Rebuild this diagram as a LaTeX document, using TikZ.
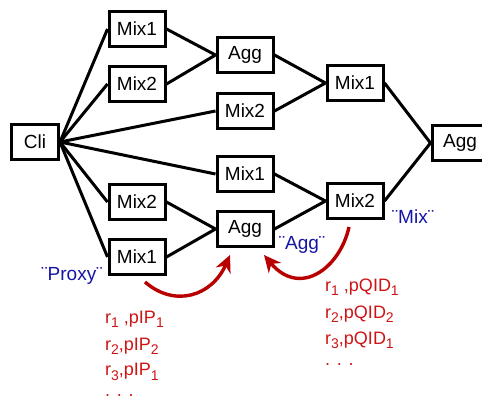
\documentclass[tikz,border=0pt]{standalone}
\usepackage{fontspec}
\setmainfont{Liberation Sans}
\usetikzlibrary{arrows.meta}
\definecolor{lblblue}{RGB}{20,20,165}
\definecolor{txtred}{RGB}{205,20,20}
\definecolor{arrred}{RGB}{185,0,0}
\newcommand{\sbs}[1]{\raisebox{-0.45ex}{\fontsize{14}{14}\selectfont #1}}
\begin{document}
\begin{tikzpicture}[x=1pt,y=-1pt,
  box/.style={draw,line width=3pt,minimum width=56pt,minimum height=35pt,inner sep=0pt,font=\fontsize{19}{22}\selectfont,fill=white},
  link/.style={line width=3pt},
  lbl/.style={text=lblblue,font=\fontsize{19}{22}\selectfont},
  rtxt/.style={text=txtred,font=\fontsize{18}{22}\selectfont,anchor=west,inner sep=0pt},
  redarr/.style={draw=arrred,line width=3.4pt,-{Stealth[length=17pt,width=16pt]}}]
\useasboundingbox (0,0) rectangle (482,407);
% nodes
\node[box,minimum width=47pt] (cli) at (35,142) {Cli};
\node[box] (m1a) at (137,29) {Mix1};
\node[box] (m2a) at (137,84) {Mix2};
\node[box] (m2b) at (137,202) {Mix2};
\node[box] (m1b) at (137,257) {Mix1};
\node[box] (agga) at (245,55) {Agg};
\node[box] (m2c) at (245,111) {Mix2};
\node[box] (m1c) at (245,174) {Mix1};
\node[box] (aggb) at (245,229) {Agg};
\node[box] (m1d) at (355,83) {Mix1};
\node[box] (m2d) at (355,201) {Mix2};
\node[box] (aggc) at (460,143) {Agg};
% links
\foreach \t in {m1a,m2a,m2b,m1b,m2c,m1c}
  \draw[link] (cli.east) -- (\t.west);
\draw[link] (m1a.east) -- (agga.west);
\draw[link] (m2a.east) -- (agga.west);
\draw[link] (m2b.east) -- (aggb.west);
\draw[link] (m1b.east) -- (aggb.west);
\draw[link] (agga.east) -- (m1d.west);
\draw[link] (m2c.east) -- (m1d.west);
\draw[link] (m1c.east) -- (m2d.west);
\draw[link] (aggb.east) -- (m2d.west);
\draw[link] (m1d.east) -- (aggc.west);
\draw[link] (m2d.east) -- (aggc.west);
% labels
\node[lbl] (lproxy) at (72,276) {¨Proxy¨};
\node[lbl] (lagg) at (302,245) {¨Agg¨};
\node[lbl] (lmix) at (413,217) {¨Mix¨};
% red arrows
\coordinate (s1) at (145,282);
\coordinate (e1) at (230,255);
\coordinate (s2) at (349,227);
\coordinate (e2) at (264,255);
\draw[redarr] (s1) .. controls (175,308) and (212,296) .. (e1);
\draw[redarr] (s2) .. controls (340,268) and (300,298) .. (e2);
% red texts
\node[rtxt] (a1) at (105,319) {r\sbs{1} ,pIP\sbs{1}};
\node[rtxt] (a2) at (105,346) {r\sbs{2},pIP\sbs{2}};
\node[rtxt] (a3) at (105,372) {r\sbs{3},pIP\sbs{1}};
\node[rtxt] (a4) at (105,396) {. . .};
\node[rtxt] (b1) at (325,287) {r\sbs{1} ,pQID\sbs{1}};
\node[rtxt] (b2) at (325,314) {r\sbs{2},pQID\sbs{2}};
\node[rtxt] (b3) at (325,340) {r\sbs{3},pQID\sbs{1}};
\node[rtxt] (b4) at (325,365) {. . .};
\end{tikzpicture}
\end{document}
